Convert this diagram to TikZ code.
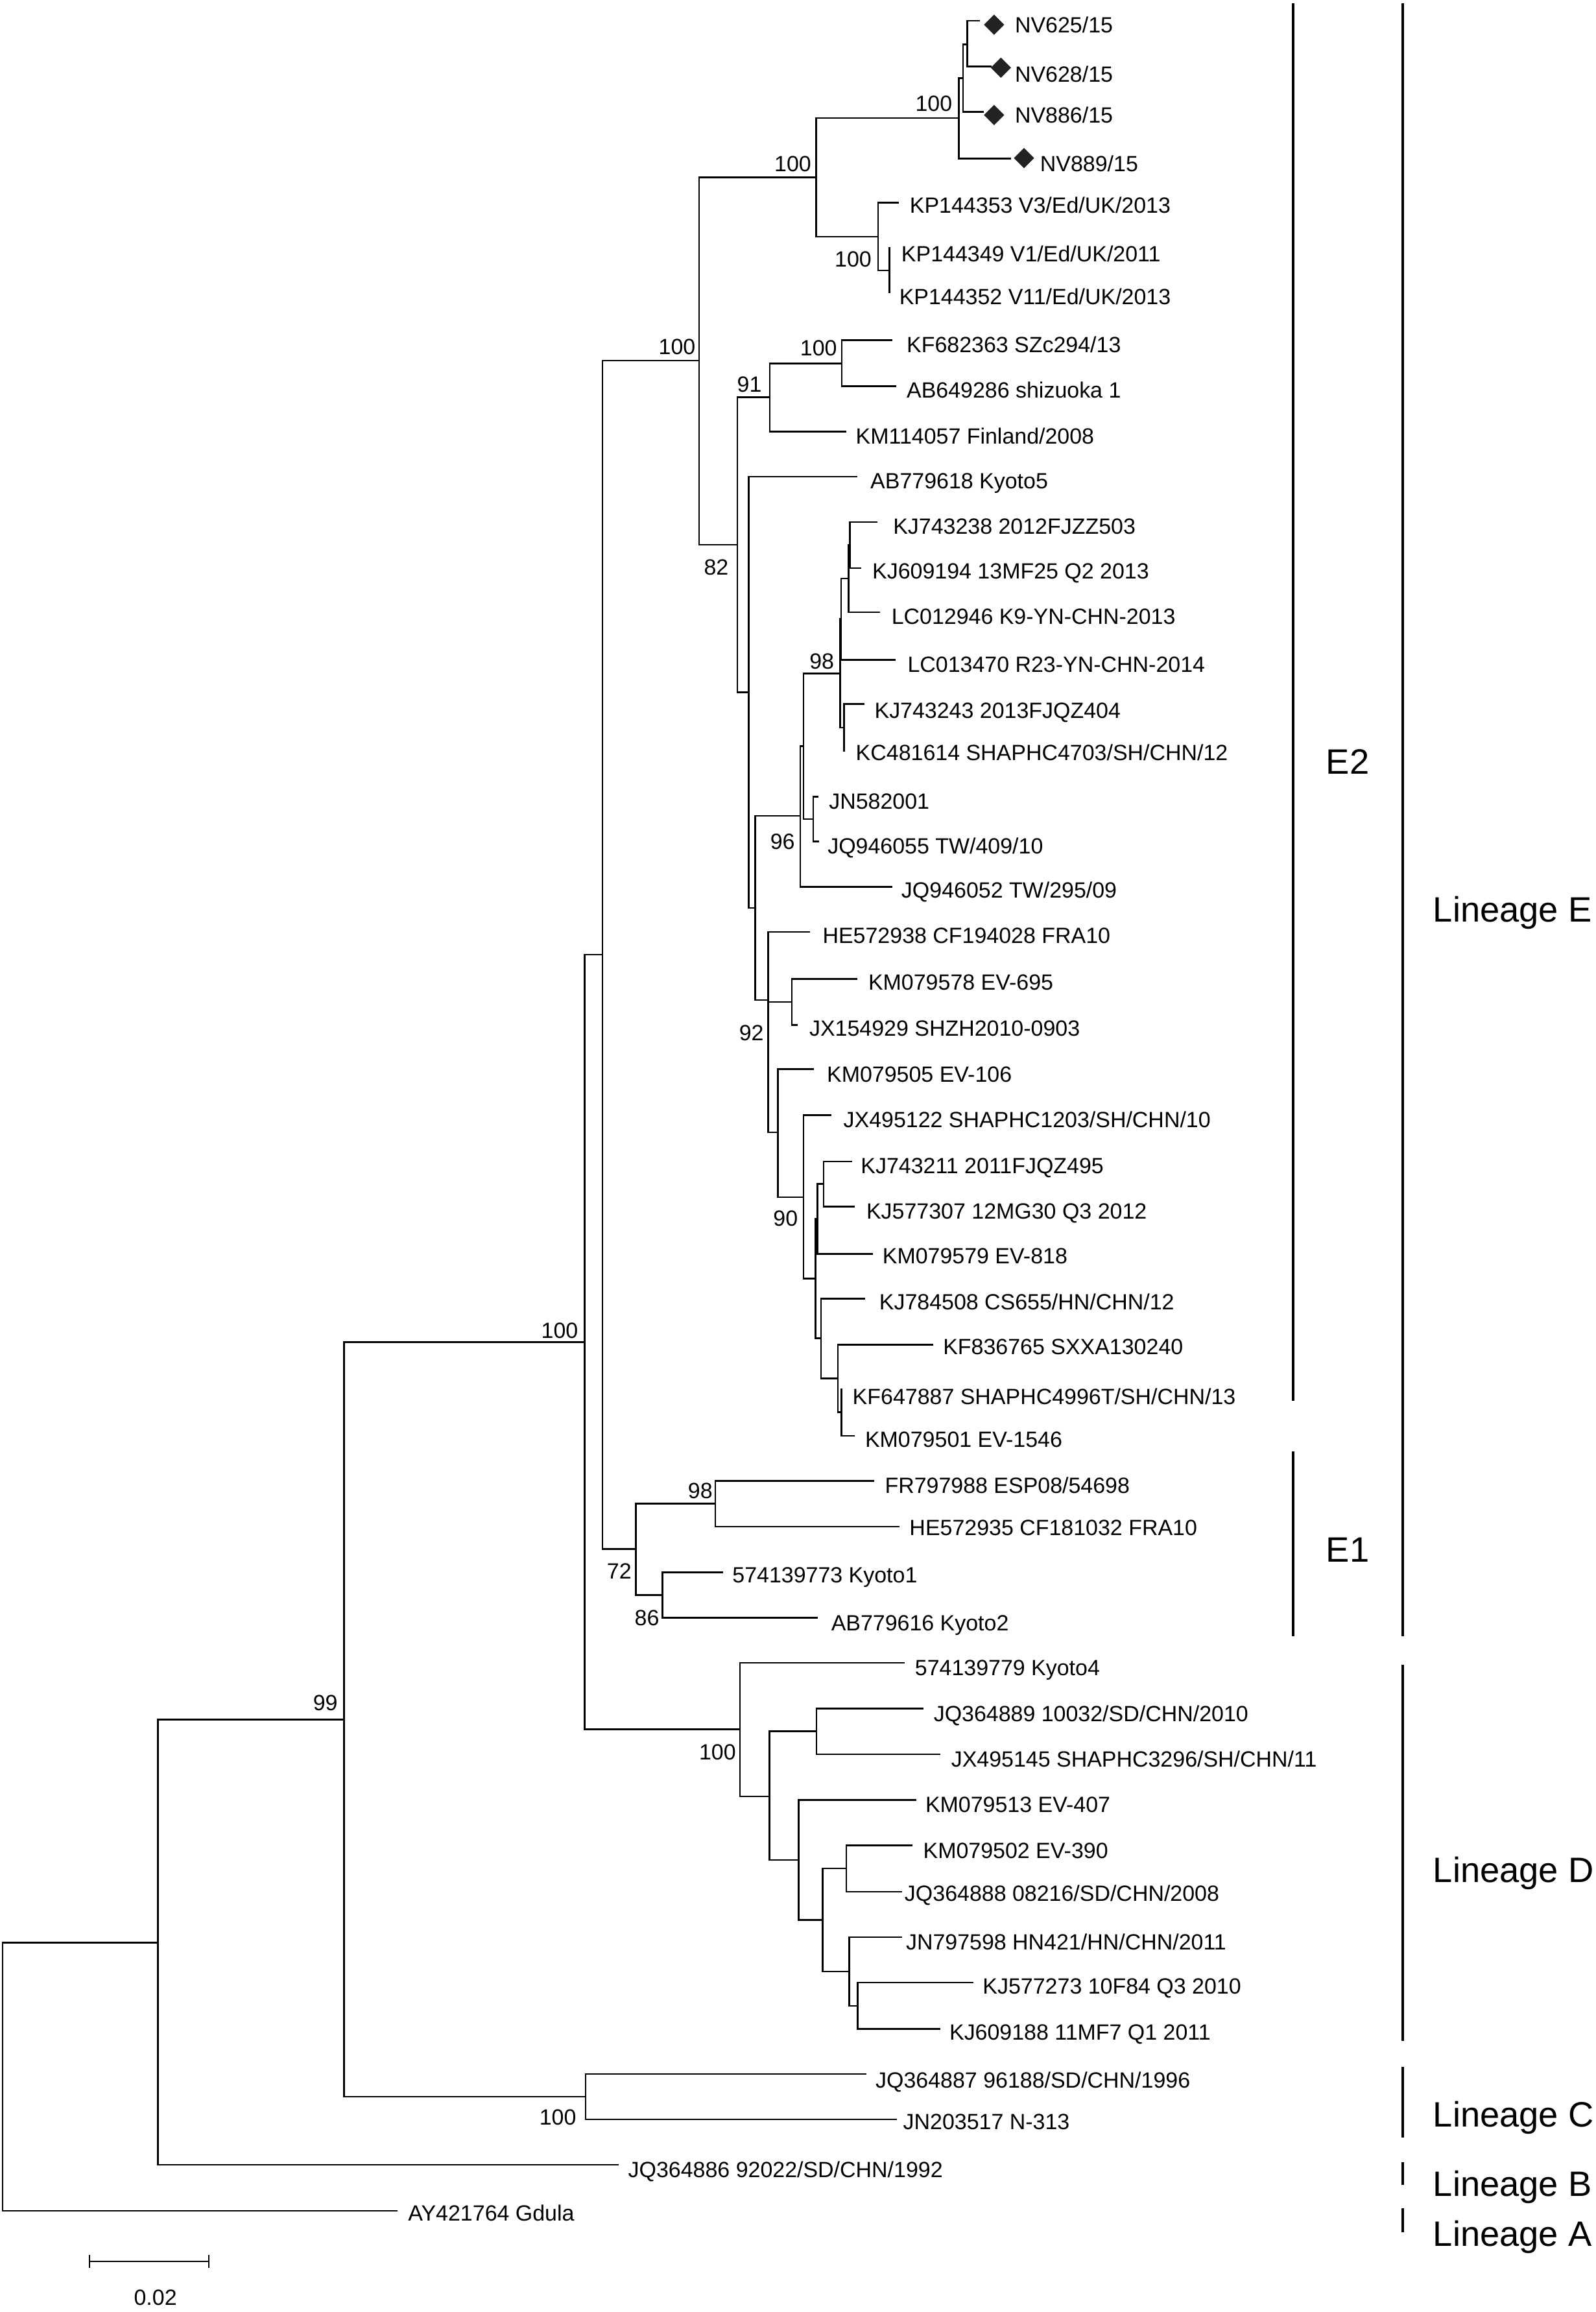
\documentclass[tikz,border=0pt]{standalone}
\usepackage{fontspec}
\setmainfont{Liberation Sans}
\usetikzlibrary{shapes.geometric}

\definecolor{markgray}{HTML}{222222}

\tikzset{
  branch/.style={line width=0.65pt},
  clade/.style={line width=1.1pt},
  leaf/.style={anchor=west, inner sep=0pt, text height=6.1pt, text depth=0pt, font=\fontsize{8.5}{10}\selectfont},
  boot/.style={anchor=east, inner sep=0pt, text height=6.1pt, text depth=0pt, font=\fontsize{8.5}{10}\selectfont},
  group/.style={anchor=west, inner sep=0pt, text height=9.7pt, text depth=0pt, font=\fontsize{13.6}{16}\selectfont},
  nvmark/.style={diamond, fill=markgray, inner sep=0pt, minimum size=8pt}
}

\begin{document}
\begin{tikzpicture}[x=0.02cm, y=-0.02cm]

\path [use as bounding box] (0,0) rectangle (1082,1568);

% INTERNAL NODES
\coordinate (nRoot) at (1.7,1408.4);
\coordinate (nBCDE) at (107.2,1317.4);
\coordinate (nCDE) at (233.3,1166.2);
\coordinate (nC) at (397.2,1422);
\coordinate (nDE) at (396.5,910.1);
\coordinate (nE) at (408.6,647.4);
\coordinate (nE1) at (431.2,1050.5);
\coordinate (nE1a) at (485.2,1019.8);
\coordinate (nE1b) at (449.2,1081.7);
\coordinate (nE2) at (474.2,244.6);
\coordinate (nNV) at (553.4,120.3);
\coordinate (nNVa) at (650.3,80);
\coordinate (nNVb) at (653.2,53);
\coordinate (nNVc) at (656,30);
\coordinate (nUK) at (595.6,160.5);
\coordinate (nUKa) at (603.2,183.4);
\coordinate (nJP) at (500.1,369.4);
\coordinate (nJPa) at (522,269.4);
\coordinate (nJPb) at (570.9,246.4);
\coordinate (nCN) at (507.9,469.5);
\coordinate (nCNa) at (512.2,615.8);
\coordinate (nCNb) at (542.8,553.3);
\coordinate (nCNc) at (545,505.9);
\coordinate (nCNd) at (569.7,456.7);
\coordinate (nCNe) at (570.5,419.8);
\coordinate (nCNf) at (575.4,392.4);
\coordinate (nCNg) at (576.5,369.7);
\coordinate (nCNh) at (572.5,493.5);
\coordinate (nCNi) at (551.5,555.5);
\coordinate (nCNj) at (521.1,678.3);
\coordinate (nCNk) at (521.1,723.7);
\coordinate (nCNl) at (537.1,679.5);
\coordinate (nCNm) at (527.6,768);
\coordinate (nCNn) at (545,811.9);
\coordinate (nCNo) at (553,867);
\coordinate (nCNp) at (554.3,826.7);
\coordinate (nCNq) at (558.5,803);
\coordinate (nCNr) at (556.9,907.7);
\coordinate (nCNs) at (568.2,934.9);
\coordinate (nCNt) at (570.8,957.6);
\coordinate (nD) at (501.9,1172.9);
\coordinate (nDa) at (521.9,1218.3);
\coordinate (nDb) at (553.8,1174.2);
\coordinate (nDc) at (541.6,1261.4);
\coordinate (nDd) at (557.8,1302.2);
\coordinate (nDe) at (573.9,1267.1);
\coordinate (nDf) at (575.9,1337);
\coordinate (nDg) at (581.8,1360.4);

% TIPS
\coordinate (tNV625) at (664.4,14.1);
\coordinate (tNV628) at (672.7,45);
\coordinate (tNV886) at (667.2,75.8);
\coordinate (tNV889) at (685.5,107.5);
\coordinate (tKP144353) at (609.6,137.5);
\coordinate (tKP144349) at (603.2,167.7);
\coordinate (tKP144352) at (603.2,199);
\coordinate (tKF682363) at (605.4,230.7);
\coordinate (tAB649286) at (607.7,262);
\coordinate (tKM114057) at (574,292.7);
\coordinate (tAB779618) at (581.5,323.3);
\coordinate (tKJ743238) at (595,354);
\coordinate (tKJ609194) at (584.3,385.3);
\coordinate (tLC012946) at (597,415.2);
\coordinate (tLC013470) at (607.6,447.6);
\coordinate (tKJ743243) at (586.3,477.5);
\coordinate (tKC481614) at (572.5,509.6);
\coordinate (tJN582001) at (555,540.2);
\coordinate (tJQ946055) at (555.4,570.8);
\coordinate (tJQ946052) at (605.4,601.5);
\coordinate (tHE572938) at (549.2,632.1);
\coordinate (tKM079578) at (581.5,663.8);
\coordinate (tJX154929) at (540.8,695.1);
\coordinate (tKM079505) at (552,725);
\coordinate (tJX495122) at (563.8,756.3);
\coordinate (tKJ743211) at (577.9,787.7);
\coordinate (tKJ577307) at (579.6,818.3);
\coordinate (tKM079579) at (591.8,850.4);
\coordinate (tKJ784508) at (586.9,880.7);
\coordinate (tKF836765) at (633.1,912);
\coordinate (tKF647887) at (570.8,941.5);
\coordinate (tKM079501) at (579.5,973.7);
\coordinate (tFR797988) at (592.7,1004.3);
\coordinate (tHE572935) at (610.2,1035.4);
\coordinate (tKyotoA) at (490.6,1066.3);
\coordinate (tKyotoB) at (554.5,1097.1);
\coordinate (tKyotoD) at (613.6,1127.7);
\coordinate (tJQ364889) at (626.5,1158.7);
\coordinate (tJX495145) at (637.8,1189.7);
\coordinate (tKM079513) at (621.3,1220.8);
\coordinate (tKM079502) at (618.8,1251.4);
\coordinate (tJQ364888) at (611.8,1282.9);
\coordinate (tJN797598) at (612,1313.8);
\coordinate (tKJ577273) at (660,1344.6);
\coordinate (tKJ609188) at (637.7,1376.1);
\coordinate (tJQ364887) at (587.6,1406.6);
\coordinate (tJN203517) at (608.3,1437.4);
\coordinate (tJQ364886) at (419.8,1468.2);
\coordinate (tAY421764) at (269.7,1499.4);

% BRANCHES
\draw [branch] (nRoot) |- (nBCDE) (nRoot) |- (tAY421764);
\draw [branch] (nBCDE) |- (nCDE) (nBCDE) |- (tJQ364886);
\draw [branch] (nCDE) |- (nDE) (nCDE) |- (nC);
\draw [branch] (nC) |- (tJQ364887) (nC) |- (tJN203517);
\draw [branch] (nDE) |- (nE) (nDE) |- (nD);
\draw [branch] (nE) |- (nE2) (nE) |- (nE1);
\draw [branch] (nE1) |- (nE1a) (nE1) |- (nE1b);
\draw [branch] (nE1a) |- (tFR797988) (nE1a) |- (tHE572935);
\draw [branch] (nE1b) |- (tKyotoA) (nE1b) |- (tKyotoB);
\draw [branch] (nE2) |- (nNV) (nE2) |- (nJP);
\draw [branch] (nNV) |- (nNVa) (nNV) |- (nUK);
\draw [branch] (nNVa) |- (nNVb) (nNVa) |- (tNV889);
\draw [branch] (nNVb) |- (nNVc) (nNVb) |- (tNV886);
\draw [branch] (nNVc) |- (tNV625) (nNVc) |- (tNV628);
\draw [branch] (nUK) |- (tKP144353) (nUK) |- (nUKa);
\draw [branch] (nUKa) |- (tKP144349) (nUKa) |- (tKP144352);
\draw [branch] (nJP) |- (nJPa) (nJP) |- (nCN);
\draw [branch] (nJPa) |- (nJPb) (nJPa) |- (tKM114057);
\draw [branch] (nJPb) |- (tKF682363) (nJPb) |- (tAB649286);
\draw [branch] (nCN) |- (tAB779618) (nCN) |- (nCNa);
\draw [branch] (nCNa) |- (nCNb) (nCNa) |- (nCNj);
\draw [branch] (nCNb) |- (nCNc) (nCNb) |- (tJQ946052);
\draw [branch] (nCNc) |- (nCNd) (nCNc) |- (nCNi);
\draw [branch] (nCNd) |- (nCNe) (nCNd) |- (nCNh);
\draw [branch] (nCNe) |- (nCNf) (nCNe) |- (tLC013470);
\draw [branch] (nCNf) |- (nCNg) (nCNf) |- (tLC012946);
\draw [branch] (nCNg) |- (tKJ743238) (nCNg) |- (tKJ609194);
\draw [branch] (nCNh) |- (tKJ743243) (nCNh) |- (tKC481614);
\draw [branch] (nCNi) |- (tJN582001) (nCNi) |- (tJQ946055);
\draw [branch] (nCNj) |- (tHE572938) (nCNj) |- (nCNk);
\draw [branch] (nCNk) |- (nCNl) (nCNk) |- (nCNm);
\draw [branch] (nCNl) |- (tKM079578) (nCNl) |- (tJX154929);
\draw [branch] (nCNm) |- (tKM079505) (nCNm) |- (nCNn);
\draw [branch] (nCNn) |- (tJX495122) (nCNn) |- (nCNo);
\draw [branch] (nCNo) |- (nCNp) (nCNo) |- (nCNr);
\draw [branch] (nCNp) |- (nCNq) (nCNp) |- (tKM079579);
\draw [branch] (nCNq) |- (tKJ743211) (nCNq) |- (tKJ577307);
\draw [branch] (nCNr) |- (tKJ784508) (nCNr) |- (nCNs);
\draw [branch] (nCNs) |- (tKF836765) (nCNs) |- (nCNt);
\draw [branch] (nCNt) |- (tKF647887) (nCNt) |- (tKM079501);
\draw [branch] (nD) |- (tKyotoD) (nD) |- (nDa);
\draw [branch] (nDa) |- (nDb) (nDa) |- (nDc);
\draw [branch] (nDb) |- (tJQ364889) (nDb) |- (tJX495145);
\draw [branch] (nDc) |- (tKM079513) (nDc) |- (nDd);
\draw [branch] (nDd) |- (nDe) (nDd) |- (nDf);
\draw [branch] (nDe) |- (tKM079502) (nDe) |- (tJQ364888);
\draw [branch] (nDf) |- (tJN797598) (nDf) |- (nDg);
\draw [branch] (nDg) |- (tKJ577273) (nDg) |- (tKJ609188);

% MARKS
\node [nvmark] (mNV625) at (674.2,16.8) {};
\node [nvmark] (mNV628) at (678.8,45.9) {};
\node [nvmark] (mNV886) at (674.2,78) {};
\node [nvmark] (mNV889) at (694.5,107.2) {};

% LEAF LABELS
\node [leaf] (lNV625) at (688,16.8) {NV625/15};
\node [leaf] (lNV628) at (688,50.3) {NV628/15};
\node [leaf] (lNV886) at (688,78) {NV886/15};
\node [leaf] (lNV889) at (705.1,110.8) {NV889/15};
\node [leaf] (lKP144353) at (616.7,139.3) {KP144353 V3/Ed/UK/2013};
\node [leaf] (lKP144349) at (611,172) {KP144349 V1/Ed/UK/2011};
\node [leaf] (lKP144352) at (609.6,201) {KP144352 V11/Ed/UK/2013};
\node [leaf] (lKF682363) at (614.6,233.6) {KF682363 SZc294/13};
\node [leaf] (lAB649286) at (614.6,264.3) {AB649286 shizuoka 1};
\node [leaf] (lKM114057) at (580.1,295.9) {KM114057 Finland/2008};
\node [leaf] (lAB779618) at (590,326.2) {AB779618 Kyoto5};
\node [leaf] (lKJ743238) at (605.4,356.9) {KJ743238 2012FJZZ503};
\node [leaf] (lKJ609194) at (591.3,387) {KJ609194 13MF25 Q2 2013};
\node [leaf] (lLC012946) at (604.3,418) {LC012946 K9-YN-CHN-2013};
\node [leaf] (lLC013470) at (615.2,450.5) {LC013470 R23-YN-CHN-2014};
\node [leaf] (lKJ743243) at (592.8,481.9) {KJ743243 2013FJQZ404};
\node [leaf] (lKC481614) at (580.1,510.3) {KC481614 SHAPHC4703/SH/CHN/12};
\node [leaf] (lJN582001) at (561.9,543.2) {JN582001};
\node [leaf] (lJQ946055) at (561,573.7) {JQ946055 TW/409/10};
\node [leaf] (lJQ946052) at (611,603.6) {JQ946052 TW/295/09};
\node [leaf] (lHE572938) at (557.6,634.3) {HE572938 CF194028 FRA10};
\node [leaf] (lKM079578) at (588.6,666) {KM079578 EV-695};
\node [leaf] (lJX154929) at (548.6,697.2) {JX154929 SHZH2010-0903};
\node [leaf] (lKM079505) at (560.5,728.6) {KM079505 EV-106};
\node [leaf] (lJX495122) at (571.7,759.2) {JX495122 SHAPHC1203/SH/CHN/10};
\node [leaf] (lKJ743211) at (583.5,790.6) {KJ743211 2011FJQZ495};
\node [leaf] (lKJ577307) at (587.3,821.2) {KJ577307 12MG30 Q3 2012};
\node [leaf] (lKM079579) at (598.2,851.7) {KM079579 EV-818};
\node [leaf] (lKJ784508) at (596,883) {KJ784508 CS655/HN/CHN/12};
\node [leaf] (lKF836765) at (639.3,913.1) {KF836765 SXXA130240};
\node [leaf] (lKF647887) at (577.9,946.9) {KF647887 SHAPHC4996T/SH/CHN/13};
\node [leaf] (lKM079501) at (586.4,976) {KM079501 EV-1546};
\node [leaf] (lFR797988) at (599.8,1007.4) {FR797988 ESP08/54698};
\node [leaf] (lHE572935) at (616.5,1036) {HE572935 CF181032 FRA10};
\node [leaf] (lKyotoA) at (496.4,1067.9) {574139773 Kyoto1};
\node [leaf] (lKyotoB) at (563.4,1100.5) {AB779616 Kyoto2};
\node [leaf] (lKyotoD) at (620.2,1131) {574139779 Kyoto4};
\node [leaf] (lJQ364889) at (632.9,1162.3) {JQ364889 10032/SD/CHN/2010};
\node [leaf] (lJX495145) at (644.8,1193) {JX495145 SHAPHC3296/SH/CHN/11};
\node [leaf] (lKM079513) at (627.3,1223.7) {KM079513 EV-407};
\node [leaf] (lKM079502) at (625.8,1255) {KM079502 EV-390};
\node [leaf] (lJQ364888) at (613.2,1284) {JQ364888 08216/SD/CHN/2008};
\node [leaf] (lJN797598) at (614.1,1317) {JN797598 HN421/HN/CHN/2011};
\node [leaf] (lKJ577273) at (666.2,1346.8) {KJ577273 10F84 Q3 2010};
\node [leaf] (lKJ609188) at (643.6,1378.3) {KJ609188 11MF7 Q1 2011};
\node [leaf] (lJQ364887) at (593.5,1410.5) {JQ364887 96188/SD/CHN/1996};
\node [leaf] (lJN203517) at (612.2,1439) {JN203517 N-313};
\node [leaf] (lJQ364886) at (425.7,1471.4) {JQ364886 92022/SD/CHN/1992};
\node [leaf] (lAY421764) at (276.5,1501) {AY421764 Gdula};

% BOOTSTRAP
\node [boot] (bNVa) at (646.1,70) {100};
\node [boot] (bNV) at (550.5,110.8) {100};
\node [boot] (bUKa) at (591.4,175.7) {100};
\node [boot] (bE2) at (472,235) {100};
\node [boot] (bJPb) at (568,235.8) {100};
\node [boot] (bJPa) at (516.9,260.6) {91};
\node [boot] (bJP) at (494.4,384.6) {82};
\node [boot] (bCNd) at (566,448.3) {98};
\node [boot] (bCNb) at (539.4,570.8) {96};
\node [boot] (bCNj) at (518.3,700.2) {92};
\node [boot] (bCNp) at (541.4,826.3) {90};
\node [boot] (bDE) at (392.4,902.2) {100};
\node [boot] (bE1a) at (483.6,1010.7) {98};
\node [boot] (bE1) at (428.6,1065.5) {72};
\node [boot] (bE1b) at (447.4,1097.1) {86};
\node [boot] (bCDE) at (229.3,1154.8) {99};
\node [boot] (bD) at (499.4,1188.2) {100};
\node [boot] (bC) at (391.1,1435.7) {100};

% CLADE BARS
\coordinate (eTwoTop) at (877.1,2.2);
\coordinate (eTwoBot) at (877.1,950);
\coordinate (eOneTop) at (877.1,984.2);
\coordinate (eOneBot) at (877.1,1109.5);
\coordinate (linETop) at (951.4,2.2);
\coordinate (linEBot) at (951.4,1109.5);
\coordinate (linDTop) at (951.4,1129);
\coordinate (linDBot) at (951.4,1384);
\coordinate (linCTop) at (951.4,1401.7);
\coordinate (linCBot) at (951.4,1449.5);
\coordinate (linBTop) at (951.4,1466.3);
\coordinate (linBBot) at (951.4,1481.7);
\coordinate (linATop) at (951.4,1497.8);
\coordinate (linABot) at (951.4,1513.9);
\draw [clade] (eTwoTop) -- (eTwoBot);
\draw [clade] (eOneTop) -- (eOneBot);
\draw [clade] (linETop) -- (linEBot);
\draw [clade] (linDTop) -- (linDBot);
\draw [clade] (linCTop) -- (linCBot);
\draw [clade] (linBTop) -- (linBBot);
\draw [clade] (linATop) -- (linABot);

\node [group] (gE2) at (899,516.6) {E2};
\node [group] (gE1) at (899,1051) {E1};
\node [group] (gLinE) at (971.6,616.7) {Lineage E};
\node [group] (gLinD) at (971.6,1268) {Lineage D};
\node [group] (gLinC) at (971.6,1434) {Lineage C};
\node [group] (gLinB) at (971.6,1481) {Lineage B};
\node [group] (gLinA) at (971.6,1514.6) {Lineage A};

% SCALE
\coordinate (sLeft) at (60.7,1533.7);
\coordinate (sRight) at (141.6,1533.7);
\draw [branch] (sLeft) -- (sRight);
\draw [branch] (sLeft) +(0,-4.5) -- +(0,4.5);
\draw [branch] (sRight) +(0,-4.5) -- +(0,4.5);
\node [leaf, anchor=center] (sLabel) at (105.4,1558) {0.02};

\end{tikzpicture}
\end{document}
